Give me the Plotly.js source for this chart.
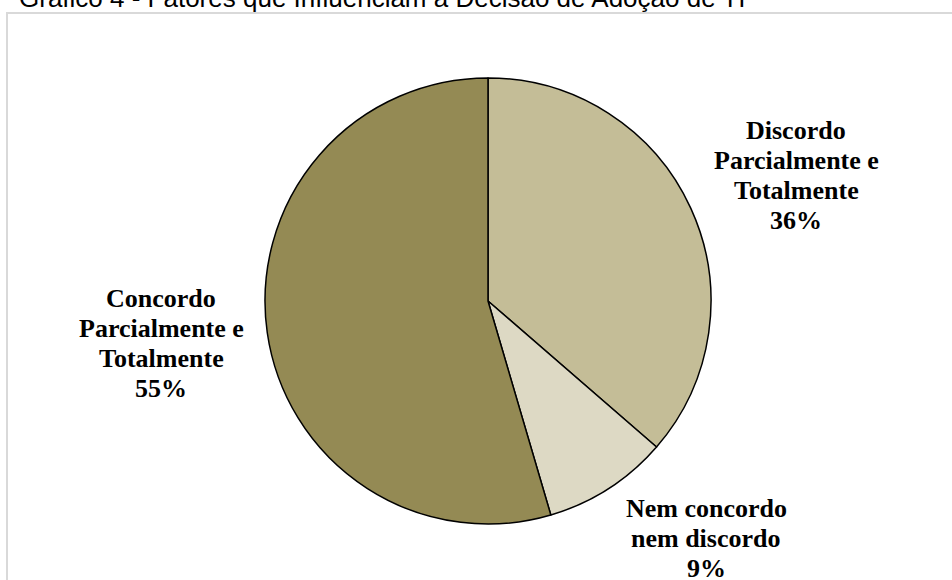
<!DOCTYPE html>
<html>
<head>
<meta charset="utf-8">
<script src="https://cdn.plot.ly/plotly-3.0.1.min.js"></script>
<style>
  html, body { margin: 0; padding: 0; background: #ffffff; }
  #chart { width: 952px; height: 580px; }
</style>
</head>
<body>
<div id="chart"></div>
<script>
// ---- data ----
const chartTitle = 'Gráfico 4 - Fatores que Influenciam a Decisão de Adoção de TI';
const labelLines = [
  ['Discordo', 'Parcialmente e', 'Totalmente'],
  ['Nem concordo', 'nem discordo'],
  ['Concordo', 'Parcialmente e', 'Totalmente']
];
const categories = labelLines.map(l => l.join(' '));
const values = [4, 1, 6];   // respondent counts (36%, 9%, 55%)
const colors = ['#C4BD97', '#DDD9C4', '#948A54'];

// ---- layout helpers ----
const W = 952, H = 580;
const px = x => x / W;
const py = y => 1 - y / H;
const total = values.reduce((a, b) => a + b, 0);
const pct = values.map(v => Math.round(100 * v / total) + '%');
// first-line centre of each label block (pixels)
const labelAnchors = [[796, 130], [706, 508], [161, 298]];
const lineGap = 30;

const annotations = [];
labelLines.forEach((lines, i) => {
  const all = lines.concat([pct[i]]);
  all.forEach((t, j) => {
    annotations.push({
      text: '<b>' + t + '</b>',
      xref: 'paper', yref: 'paper',
      x: px(labelAnchors[i][0]), y: py(labelAnchors[i][1] + j * lineGap),
      xanchor: 'center', yanchor: 'middle',
      showarrow: false,
      font: { family: 'Liberation Serif, Times New Roman, serif', size: 26, color: '#000000' }
    });
  });
});
annotations.push({
  text: chartTitle,
  xref: 'paper', yref: 'paper',
  x: px(17), y: py(-2),
  xanchor: 'left', yanchor: 'middle',
  showarrow: false,
  font: { family: 'Liberation Sans, Arial, sans-serif', size: 26, color: '#000000' }
});

const trace = {
  type: 'pie',
  labels: categories,
  values: values,
  sort: false,
  direction: 'clockwise',
  rotation: 0,
  textinfo: 'none',
  hoverinfo: 'label+percent',
  marker: { colors: colors, line: { color: '#000000', width: 1.5 } },
  domain: { x: [px(265), px(711)], y: [py(524), py(78)] }
};

const layout = {
  width: W, height: H,
  margin: { l: 0, r: 0, t: 0, b: 0 },
  paper_bgcolor: '#ffffff',
  showlegend: false,
  annotations: annotations,
  shapes: [{
    type: 'rect', xref: 'paper', yref: 'paper',
    x0: px(7), x1: px(960), y0: py(600), y1: py(13),
    line: { color: '#D9D9D9', width: 2 }, fillcolor: 'rgba(0,0,0,0)', layer: 'below'
  }]
};

Plotly.newPlot('chart', [trace], layout, { displayModeBar: false, staticPlot: true });
</script>
</body>
</html>
